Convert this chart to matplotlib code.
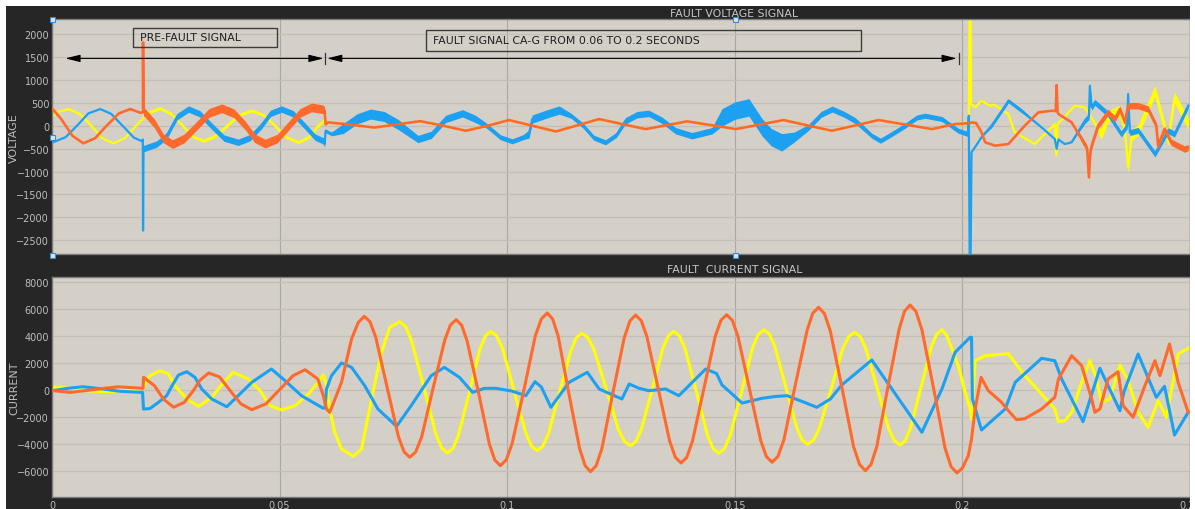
import matplotlib
matplotlib.use("Agg")
import matplotlib.pyplot as plt
from matplotlib.patches import Rectangle
import numpy as np

# ---------------- data (time in s) ----------------
FAULT_START = 0.06
FAULT_END = 0.2

# Voltage signals: (t, V)
volt_yellow = [
    (0.0000, 200), (0.0012, 300), (0.0037, 364), (0.0062, 250), (0.0086, 0), (0.0110, -270),
    (0.0135, -384), (0.0160, -270), (0.0185, 0), (0.0199, 150), (0.0210, 280), (0.0237, 380),
    (0.0262, 260), (0.0287, 0), (0.0310, -240), (0.0333, -330), (0.0358, -230), (0.0385, 0),
    (0.0410, 230), (0.0439, 330), (0.0465, 230), (0.0490, 0), (0.0515, -250), (0.0541, -360),
    (0.0565, -250), (0.0585, 0), (0.0599, 120), (0.0601, 30), (0.0607, 70), (0.0708, -40),
    (0.0809, 95), (0.0909, -105), (0.1004, 120), (0.1107, -120), (0.1202, 140), (0.1304, -70),
    (0.1395, 90), (0.1502, -70), (0.1607, 120), (0.1713, -105), (0.1816, 120), (0.1933, -70),
    (0.1984, 36), (0.2014, 58), (0.2016, 2600), (0.2018, 2600), (0.2019, 473), (0.2028, 400),
    (0.2042, 545), (0.2060, 436), (0.2070, 460), (0.2101, 255), (0.2115, -145), (0.2159, -400),
    (0.2203, 36), (0.2206, -650), (0.2209, 36), (0.2247, 436), (0.2269, 400), (0.2285, 150),
    (0.2305, -181), (0.2320, 200), (0.2346, 327), (0.2357, -100), (0.2364, -908), (0.2372, -200),
    (0.2386, -100), (0.2423, 763), (0.2452, -327), (0.2466, 618), (0.2496, 36),
]
volt_orange = [
    (0.0000, 380), (0.0020, 150), (0.0045, -220), (0.0069, -384), (0.0095, -270), (0.0120, 0),
    (0.0147, 270), (0.0172, 364), (0.0195, 280), (0.01998, 300), (0.0200, 1819), (0.0201, 300),
    (0.0203, 300), (0.0225, 50), (0.0245, -280), (0.0265, -400), (0.0290, -280), (0.0318, 0),
    (0.0345, 280), (0.0373, 380), (0.0400, 270), (0.0425, 0), (0.0445, -270), (0.0468, -390),
    (0.0495, -280), (0.0520, 0), (0.0545, 280), (0.0570, 400), (0.0595, 360), (0.0599, 320),
    (0.0601, 30), (0.0607, 73), (0.0658, 20), (0.0708, -40), (0.0759, 30), (0.0809, 100),
    (0.0859, 0), (0.0909, -109), (0.0957, 0), (0.1004, 124), (0.1055, 0), (0.1107, -124),
    (0.1155, 10), (0.1202, 146), (0.1253, 35), (0.1304, -73), (0.1350, 10), (0.1395, 95),
    (0.1450, 10), (0.1502, -73), (0.1555, 25), (0.1607, 124), (0.1660, 7), (0.1713, -109),
    (0.1765, 7), (0.1816, 124), (0.1875, 25), (0.1933, -73), (0.1984, 36), (0.2017, 58),
    (0.2020, 73), (0.2030, 60), (0.2042, -145), (0.2050, -362), (0.2072, -436), (0.2101, -400),
    (0.2137, 0), (0.2167, 292), (0.2196, 327), (0.2205, 320), (0.2207, 888), (0.2209, 300),
    (0.2211, 255), (0.2240, 73), (0.2262, -290), (0.2274, -500), (0.2278, -1126), (0.2281, -600),
    (0.2284, -436), (0.2298, 0), (0.2320, 292), (0.2335, 146), (0.2346, 364), (0.2357, 73),
    (0.2364, 436), (0.2386, 436), (0.2408, 364), (0.2426, 0), (0.2430, -436), (0.2444, -73),
    (0.2459, -362), (0.2488, -508), (0.2496, -480),
]
volt_blue = [
    (0.0000, -370), (0.0030, -250), (0.0055, 0), (0.0080, 270), (0.0106, 364), (0.0130, 260),
    (0.0155, 0), (0.0180, -260), (0.0198, -340), (0.01995, -300), (0.0200, -2290), (0.0201, -500),
    (0.0230, -400), (0.0252, -220), (0.0275, 200), (0.0300, 364), (0.0325, 260), (0.0350, 0),
    (0.0378, -270), (0.0409, -362), (0.0435, -260), (0.0460, 0), (0.0480, 270), (0.0504, 364),
    (0.0530, 260), (0.0555, 0), (0.0578, -250), (0.0596, -330), (0.0599, -400), (0.0601, -110),
    (0.0614, -180), (0.0640, -60), (0.0670, 150), (0.0700, 255), (0.0730, 200), (0.0760, 30),
    (0.0804, -290), (0.0833, -200), (0.0865, 150), (0.0902, 270), (0.0930, 150), (0.0955, 0),
    (0.0985, -250), (0.1011, -340), (0.1035, -250), (0.1048, -181), (0.1055, 146), (0.1085, 250),
    (0.1114, 342), (0.1140, 220), (0.1167, 0), (0.1190, -260), (0.1216, -362), (0.1240, -200),
    (0.1260, 109), (0.1285, 240), (0.1311, 270), (0.1340, 120), (0.1370, -109), (0.1406, -218),
    (0.1450, -109), (0.1472, 183), (0.1500, 330), (0.1531, 400), (0.1560, -36), (0.1580, -250),
    (0.1603, -362), (0.1630, -250), (0.1662, -36), (0.1690, 250), (0.1714, 364), (0.1740, 250),
    (0.1765, 109), (0.1801, -218), (0.1820, -327), (0.1850, -150), (0.1874, 0), (0.1900, 180),
    (0.1918, 218), (0.1955, 146), (0.1991, -109), (0.2012, -181), (0.2014, 218), (0.2016, -2950),
    (0.2018, -2950), (0.2020, -581), (0.2030, -436), (0.2042, -250), (0.2064, 0), (0.2094, 436),
    (0.2101, 545), (0.2130, 327), (0.2174, -36), (0.2203, -290), (0.2207, -508), (0.2211, -300),
    (0.2225, -400), (0.2240, -362), (0.2269, 109), (0.2278, 200), (0.2280, 872), (0.2284, 400),
    (0.2291, 510), (0.2320, 255), (0.2349, -181), (0.2362, 0), (0.2364, 691), (0.2368, -150),
    (0.2386, -100), (0.2423, -617), (0.2452, -109), (0.2466, -181), (0.2496, 436),
]
# high-frequency ripple half-amplitude (V) over time spans: (t0, t1, half-amplitude)
ripple_yellow = [(0.0200, 0.0600, 30), (0.2290, 0.2500, 120)]
ripple_orange = [(0.0201, 0.0600, 95), (0.2255, 0.2500, 70)]
ripple_blue = [
    (0.0201, 0.0600, 70), (0.0601, 0.0640, 40), (0.0640, 0.0800, 110), (0.0800, 0.0950, 80),
    (0.0950, 0.1040, 55), (0.1040, 0.1120, 90), (0.1120, 0.1250, 55), (0.1250, 0.1400, 70),
    (0.1400, 0.1460, 70), (0.1460, 0.1620, 190), (0.1620, 0.1660, 110), (0.1660, 0.1780, 65),
    (0.1780, 0.2013, 55), (0.2050, 0.2140, 45), (0.2250, 0.2500, 65),
]

# Current signals: (t, A)
cur_yellow = [
    (0.0000, 200), (0.0040, 100), (0.0085, -100), (0.0120, -150), (0.0165, -50), (0.0200, 80),
    (0.0206, 500), (0.0215, 1037), (0.0237, 1407), (0.0256, 1163), (0.0270, 296), (0.0296, -689),
    (0.0322, -1230), (0.0351, -563), (0.0377, 548), (0.0398, 1290), (0.0431, 793), (0.0457, -74),
    (0.0479, -1185), (0.0504, -1500), (0.0534, -1185), (0.0563, -318), (0.0585, 548), (0.0596, 1090),
    (0.0603, 296), (0.0610, -1430), (0.0621, -3155), (0.0636, -4393), (0.0662, -4935), (0.0680, -4393),
    (0.0702, -689), (0.0724, 2770), (0.0742, 4622), (0.0764, 5037), (0.07771, 4667), (0.0790, 3612),
    (0.0817, 174), (0.0843, -3264), (0.08559, -4319), (0.0869, -4689), (0.08809, -4347), (0.0893, -3369),
    (0.0917, -182), (0.0940, 3005), (0.09521, 3983), (0.0964, 4326), (0.09768, 3990), (0.0990, 3030),
    (0.1015, -96), (0.1041, -3222), (0.10533, -4182), (0.1066, -4518), (0.10783, -4188), (0.1091, -3244),
    (0.1115, -170), (0.1140, 2904), (0.11518, 3848), (0.1164, 4178), (0.11774, 3862), (0.1191, 2958),
    (0.1218, 15), (0.1244, -2928), (0.12576, -3832), (0.1271, -4148), (0.12829, -3826), (0.1295, -2907),
    (0.1319, 89), (0.1342, 3085), (0.13541, 4004), (0.1366, 4326), (0.13784, 3983), (0.1391, 3002),
    (0.1416, -193), (0.1440, -3388), (0.14526, -4369), (0.1465, -4711), (0.14774, -4364), (0.1490, -3371),
    (0.1515, -134), (0.1539, 3103), (0.15516, 4096), (0.1564, 4444), (0.1576, 4121), (0.1588, 3200),
    (0.1612, 197), (0.1636, -2806), (0.1648, -3727), (0.1660, -4050), (0.16729, -3735), (0.1686, -2834),
    (0.1712, 101), (0.1737, 3036), (0.17501, 3937), (0.1763, 4252), (0.17755, 3935), (0.1788, 3029),
    (0.1813, 78), (0.1838, -2873), (0.18505, -3779), (0.1863, -4096), (0.18745, -3771), (0.1886, -2845),
    (0.1909, 174), (0.1932, 3193), (0.19435, 4119), (0.1955, 4444), (0.1965, 4050), (0.1977, 3014),
    (0.1991, 1778), (0.2006, -193), (0.2017, -1430), (0.2020, -2170), (0.2028, 2148), (0.2050, 2518),
    (0.2101, 2666), (0.2137, 1037), (0.2174, -318), (0.2203, -1430), (0.2211, -2370), (0.2225, -2300),
    (0.2240, -1674), (0.2262, 548), (0.2280, 2148), (0.2295, 793), (0.2305, -933), (0.2324, -689),
    (0.2346, 1830), (0.2364, 667), (0.2386, -1674), (0.2408, -2785), (0.2430, -815), (0.2448, -2044),
    (0.2474, 2644), (0.2496, 3066),
]
cur_orange = [
    (0.0000, -60), (0.0040, -200), (0.0090, 0), (0.0145, 220), (0.0195, 110), (0.0200, 100),
    (0.0201, 920), (0.0225, 300), (0.0245, -700), (0.0267, -1300), (0.0290, -950), (0.0310, -100),
    (0.0325, 700), (0.0344, 1240), (0.0368, 950), (0.0392, -100), (0.0415, -1050), (0.0439, -1480),
    (0.0470, -1050), (0.0500, 0), (0.0530, 1050), (0.0556, 1480), (0.0584, 790), (0.0596, -440),
    (0.0603, -1430), (0.0610, -1680), (0.0616, -1185), (0.0636, 548), (0.0658, 3755), (0.0673, 4992),
    (0.0686, 5437), (0.06985, 5040), (0.0711, 3907), (0.0736, 215), (0.0761, -3477), (0.07735, -4610),
    (0.0786, -5007), (0.07988, -4620), (0.0812, -3514), (0.0837, 89), (0.0863, 3692), (0.08753, 4798),
    (0.0888, 5185), (0.09001, 4774), (0.0912, 3601), (0.0937, -222), (0.0961, -4045), (0.09729, -5218),
    (0.0985, -5630), (0.09979, -5200), (0.1011, -3973), (0.1037, 25), (0.1062, 4023), (0.10751, 5250),
    (0.1088, 5681), (0.10999, 5234), (0.1112, 3959), (0.1135, -196), (0.1159, -4351), (0.11711, -5626),
    (0.1183, -6074), (0.11954, -5632), (0.1208, -4373), (0.1232, -270), (0.1257, 3833), (0.12696, 5092),
    (0.1282, 5533), (0.12945, 5115), (0.1307, 3926), (0.1332, 51), (0.1357, -3824), (0.13695, -5013),
    (0.1382, -5430), (0.13945, -5013), (0.1407, -3821), (0.1432, 63), (0.1457, 3947), (0.14695, 5139),
    (0.1482, 5556), (0.14945, 5141), (0.1507, 3954), (0.1532, 89), (0.1557, -3776), (0.15695, -4963),
    (0.1582, -5378), (0.15948, -4942), (0.1608, -3697), (0.1633, 362), (0.1659, 4421), (0.16713, 5666),
    (0.1684, 6103), (0.16969, 5642), (0.1710, 4329), (0.1736, 51), (0.1761, -4227), (0.17741, -5540),
    (0.1787, -6000), (0.17993, -5534), (0.1812, -4202), (0.1836, 137), (0.1861, 4476), (0.18728, 5808),
    (0.1885, 6274), (0.18979, 5801), (0.1911, 4451), (0.1937, 52), (0.1962, -4347), (0.19751, -5697),
    (0.1988, -6170), (0.2000, -5800), (0.2013, -4889), (0.2020, -3652), (0.2028, -1430), (0.2041, 918),
    (0.2057, -74), (0.2086, -933), (0.2101, -1555), (0.2119, -2222), (0.2137, -2150), (0.2174, -1430),
    (0.2203, -563), (0.2211, 793), (0.2240, 2518), (0.2262, 1778), (0.2284, -689), (0.2291, -1674),
    (0.2302, -1430), (0.2320, 793), (0.2342, 1333), (0.2353, -1185), (0.2375, -2044), (0.2401, 296),
    (0.2423, 2148), (0.2434, 1037), (0.2455, 3385), (0.2474, 548), (0.2496, -1674),
]
cur_blue = [
    (0.0000, -80), (0.0035, 100), (0.0068, 220), (0.0110, 60), (0.0150, -120), (0.0199, -200),
    (0.0201, -1430), (0.0215, -1400), (0.0234, -933), (0.0252, -444), (0.0263, 250), (0.0278, 1089),
    (0.0296, 1333), (0.0314, 918), (0.0329, 52), (0.0351, -689), (0.0384, -1260), (0.0409, -444),
    (0.0439, 548), (0.0482, 1533), (0.0512, 667), (0.0548, -444), (0.0596, -1380), (0.0600, -1300),
    (0.0603, 52), (0.0614, 1037), (0.0636, 1978), (0.0658, 1659), (0.0687, 296), (0.0716, -1430),
    (0.0757, -2713), (0.0789, -1185), (0.0833, 1037), (0.0862, 1655), (0.0895, 918), (0.0924, -193),
    (0.0950, 100), (0.0975, 104), (0.1010, -100), (0.1041, -444), (0.1061, 593), (0.1075, 200),
    (0.1096, -1304), (0.1136, 548), (0.1176, 1289), (0.1202, 52), (0.1252, -689), (0.1268, 422),
    (0.1290, 100), (0.1311, -74), (0.1348, 52), (0.1377, -444), (0.1436, 1533), (0.1460, 1200),
    (0.1472, 348), (0.1516, -985), (0.1560, -637), (0.1590, -500), (0.1615, -444), (0.1662, -1059),
    (0.1680, -1304), (0.1710, -689), (0.1735, 348), (0.1801, 2200), (0.1911, -3155), (0.1955, 52),
    (0.1984, 2770), (0.2017, 3881), (0.2020, 3881), (0.2022, -689), (0.2042, -2985), (0.2094, -1430),
    (0.2116, 548), (0.2174, 2326), (0.2203, 2148), (0.2218, 793), (0.2265, -2370), (0.2302, 1585),
    (0.2346, -1555), (0.2355, -148), (0.2386, 2644), (0.2426, -563), (0.2444, 252), (0.2466, -3355),
    (0.2496, -1674),
]

x_ticks = [0, 0.05, 0.1, 0.15, 0.2, 0.25]
x_tick_labels = ["0", "0.05", "0.1", "0.15", "0.2", "0.25"]
volt_ticks = [-2500, -2000, -1500, -1000, -500, 0, 500, 1000, 1500, 2000]
cur_ticks = [-6000, -4000, -2000, 0, 2000, 4000, 6000, 8000]

# ---------------- styling ----------------
YELLOW = "#ffff00"
ORANGE = "#ff6a2c"
BLUE = "#1ca0f2"
AX_BG = "#d4d0c8"
FIG_DARK = "#262626"
LABEL = "#bdbdbd"

plt.rcParams["font.family"] = ["DejaVu Sans"]

W, H = 1195, 510
fig = plt.figure(figsize=(W / 100, H / 100), dpi=100, facecolor="white")


def fx(px):
    return px / W


def fy(py):
    return 1 - py / H


fig.add_artist(Rectangle((fx(6), 0), fx(1190) - fx(6), fy(7), transform=fig.transFigure,
                         fc=FIG_DARK, ec="none", zorder=-5))

ax1 = fig.add_axes([fx(52), fy(255), fx(1190) - fx(52), fy(20) - fy(255)])
ax2 = fig.add_axes([fx(52), fy(498), fx(1190) - fx(52), fy(278) - fy(498)])

for ax in (ax1, ax2):
    ax.set_facecolor(AX_BG)
    ax.set_xlim(0, 0.25)
    ax.set_xticks(x_ticks)
    ax.tick_params(colors=LABEL, labelsize=7, length=0, pad=2)
    ax.grid(axis="y", color="#c3bfb7", lw=0.9)
    ax.grid(axis="x", color="#a9a9a9", lw=0.8)
    ax.set_axisbelow(True)
    for s in ax.spines.values():
        s.set_color("#7a7a7a")
        s.set_linewidth(1.0)

ax1.set_ylim(-2800, 2330)
ax1.set_yticks(volt_ticks)
ax1.tick_params(labelbottom=False)
ax2.set_ylim(-7950, 8350)
ax2.set_yticks(cur_ticks)
ax2.set_xticklabels(x_tick_labels)


def ripple_for(times, spans):
    r = np.zeros(len(times))
    for i, t in enumerate(times):
        for t0, t1, a in spans:
            if t0 <= t <= t1:
                r[i] = a
    return r


def draw_voltage(ax, pts, spans, color, lw, z):
    t = np.array([p[0] for p in pts])
    v = np.array([p[1] for p in pts], dtype=float)
    r = ripple_for(t, spans)
    ax.fill_between(t, v - r, v + r, color=color, lw=0, zorder=z)
    ax.plot(t, v, color=color, lw=lw, zorder=z, solid_joinstyle="round")


draw_voltage(ax1, volt_yellow, ripple_yellow, YELLOW, 1.6, 2)
draw_voltage(ax1, volt_blue, ripple_blue, BLUE, 1.6, 3)
draw_voltage(ax1, volt_orange, ripple_orange, ORANGE, 1.9, 4)

for pts, color, z in ((cur_yellow, YELLOW, 2), (cur_blue, BLUE, 3), (cur_orange, ORANGE, 4)):
    ax2.plot([p[0] for p in pts], [p[1] for p in pts], color=color, lw=2.2, zorder=z,
             solid_joinstyle="round")

# ---------------- annotations ----------------
arrow_y = 1470
astyle = dict(arrowstyle="<|-|>,head_length=0.9,head_width=0.22", color="black", lw=0.8,
              shrinkA=0, shrinkB=0, mutation_scale=10)
ax1.annotate("", xy=(0.0029, arrow_y), xytext=(FAULT_START - 0.0003, arrow_y), arrowprops=astyle, zorder=6)
ax1.annotate("", xy=(FAULT_START + 0.0004, arrow_y), xytext=(FAULT_END - 0.0012, arrow_y), arrowprops=astyle, zorder=6)
for tb in (FAULT_START, FAULT_END - 0.0008):
    ax1.plot([tb, tb], [arrow_y - 120, arrow_y + 120], color="#333333", lw=0.9, zorder=6)

ax1.add_patch(Rectangle((0.0709, 0.8809), 0.1975 - 0.0709, 0.9617 - 0.8809, transform=ax1.transAxes,
                        fill=False, ec="#3c3c3c", lw=1.0, zorder=6))
ax1.text(0.0773, 0.9213, "PRE-FAULT SIGNAL", transform=ax1.transAxes, fontsize=7.8,
         color="#1e1e1e", ha="left", va="center", zorder=7)
ax1.add_patch(Rectangle((0.3286, 0.8651), 0.7106 - 0.3286, 0.9545 - 0.8651, transform=ax1.transAxes,
                        fill=False, ec="#3c3c3c", lw=1.0, zorder=6))
ax1.text(0.3348, 0.9106, "FAULT SIGNAL CA-G FROM 0.06 TO 0.2 SECONDS", transform=ax1.transAxes,
         fontsize=7.8, color="#1e1e1e", ha="left", va="center", zorder=7)

# titles and axis labels
fig.text(fx(734), fy(14), "FAULT VOLTAGE SIGNAL", ha="center", va="center", color="#c8c8c8", fontsize=7.8)
fig.text(fx(735), fy(270), "FAULT  CURRENT SIGNAL", ha="center", va="center", color="#c8c8c8", fontsize=7.8)
fig.text(fx(14), fy(138), "VOLTAGE", rotation=90, ha="center", va="center", color=LABEL, fontsize=8)
fig.text(fx(14), fy(388), "CURRENT", rotation=90, ha="center", va="center", color=LABEL, fontsize=8)

# small selection handles
for (hx, hy) in ((52, 20), (52, 138), (52, 256), (735, 20), (735, 256)):
    fig.add_artist(Rectangle((fx(hx - 2.5), fy(hy + 2.5)), 5 / W, 5 / H, transform=fig.transFigure,
                             fc="#d6e6f5", ec="#3a8ad6", lw=0.8, zorder=8))

# right crop edge
fig.add_artist(Rectangle((fx(1190), 0), fx(1195) - fx(1190), 1, transform=fig.transFigure,
                         fc="white", ec="none", zorder=10))

fig.savefig("out.png", dpi=100, facecolor=fig.get_facecolor())
